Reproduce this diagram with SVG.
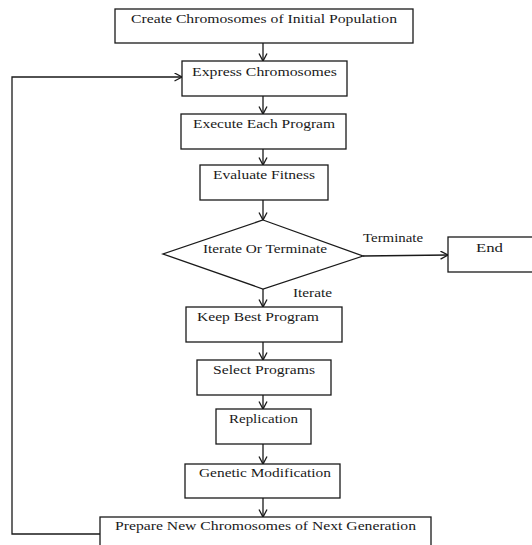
<svg xmlns="http://www.w3.org/2000/svg" width="532" height="545" viewBox="0 0 532 545">
<defs>
<style>
.box{fill:#fff;stroke:#1a1a1a;stroke-width:1.3}
.t{font-family:"Liberation Serif","Times New Roman",serif;font-size:13.5px;fill:#1a1a1a;text-anchor:start}
.c{fill:none;stroke:#1a1a1a;stroke-width:1.3}
</style>
<marker id="ah" markerUnits="userSpaceOnUse" markerWidth="10" markerHeight="10" refX="8" refY="4.5" orient="auto">
<path d="M0.5,0.5 L8,4.5 L0.5,8.5" fill="none" stroke="#1a1a1a" stroke-width="1.3"/>
</marker>
</defs>
<rect width="532" height="545" fill="#fff"/>
<g id="connectors">
<line class="c" x1="263" y1="43" x2="263" y2="61" marker-end="url(#ah)"/>
<line class="c" x1="263" y1="96" x2="263" y2="114" marker-end="url(#ah)"/>
<line class="c" x1="263" y1="149" x2="263" y2="165" marker-end="url(#ah)"/>
<line class="c" x1="263" y1="200" x2="263" y2="220" marker-end="url(#ah)"/>
<line class="c" x1="363" y1="256" x2="448" y2="255" marker-end="url(#ah)"/>
<line class="c" x1="263" y1="289" x2="263" y2="307" marker-end="url(#ah)"/>
<line class="c" x1="263" y1="342" x2="263" y2="360" marker-end="url(#ah)"/>
<line class="c" x1="263" y1="395" x2="263" y2="409" marker-end="url(#ah)"/>
<line class="c" x1="263" y1="444" x2="263" y2="464" marker-end="url(#ah)"/>
<line class="c" x1="263" y1="498" x2="263" y2="517" marker-end="url(#ah)"/>
<polyline class="c" points="100,534 12,534 12,77 182,77" marker-end="url(#ah)"/>
<text class="t" x="363" y="242" textLength="60" lengthAdjust="spacingAndGlyphs">Terminate</text>
<text class="t" x="293" y="297" textLength="39" lengthAdjust="spacingAndGlyphs">Iterate</text>
</g>
<g id="n1">
<rect class="box" x="115" y="9" width="298" height="34"/>
<text class="t" x="131" y="23" textLength="266" lengthAdjust="spacingAndGlyphs">Create Chromosomes of Initial Population</text>
</g>
<g id="n2">
<rect class="box" x="182" y="61" width="165" height="35"/>
<text class="t" x="192" y="76" textLength="145" lengthAdjust="spacingAndGlyphs">Express Chromosomes</text>
</g>
<g id="n3">
<rect class="box" x="181" y="114" width="165" height="35"/>
<text class="t" x="193" y="128" textLength="142" lengthAdjust="spacingAndGlyphs">Execute Each Program</text>
</g>
<g id="n4">
<rect class="box" x="200" y="165" width="128" height="35"/>
<text class="t" x="213" y="179" textLength="102" lengthAdjust="spacingAndGlyphs">Evaluate Fitness</text>
</g>
<g id="n5">
<polygon class="box" points="263,220 363,256 263,289 163,254"/>
<text class="t" x="203" y="253" textLength="124" lengthAdjust="spacingAndGlyphs">Iterate Or Terminate</text>
</g>
<g id="n6">
<rect class="box" x="448" y="237" width="90" height="35"/>
<text class="t" x="476" y="252" textLength="27" lengthAdjust="spacingAndGlyphs">End</text>
</g>
<g id="n7">
<rect class="box" x="186" y="307" width="156" height="35"/>
<text class="t" x="197" y="321" textLength="122" lengthAdjust="spacingAndGlyphs">Keep Best Program</text>
</g>
<g id="n8">
<rect class="box" x="197" y="360" width="134" height="35"/>
<text class="t" x="213" y="374" textLength="102" lengthAdjust="spacingAndGlyphs">Select Programs</text>
</g>
<g id="n9">
<rect class="box" x="216" y="409" width="95" height="35"/>
<text class="t" x="229" y="423" textLength="69" lengthAdjust="spacingAndGlyphs">Replication</text>
</g>
<g id="n10">
<rect class="box" x="185" y="464" width="155" height="34"/>
<text class="t" x="199" y="477" textLength="132" lengthAdjust="spacingAndGlyphs">Genetic Modification</text>
</g>
<g id="n11">
<rect class="box" x="100" y="517" width="331" height="40"/>
<text class="t" x="115" y="530" textLength="301" lengthAdjust="spacingAndGlyphs">Prepare New Chromosomes of Next Generation</text>
</g>
</svg>
